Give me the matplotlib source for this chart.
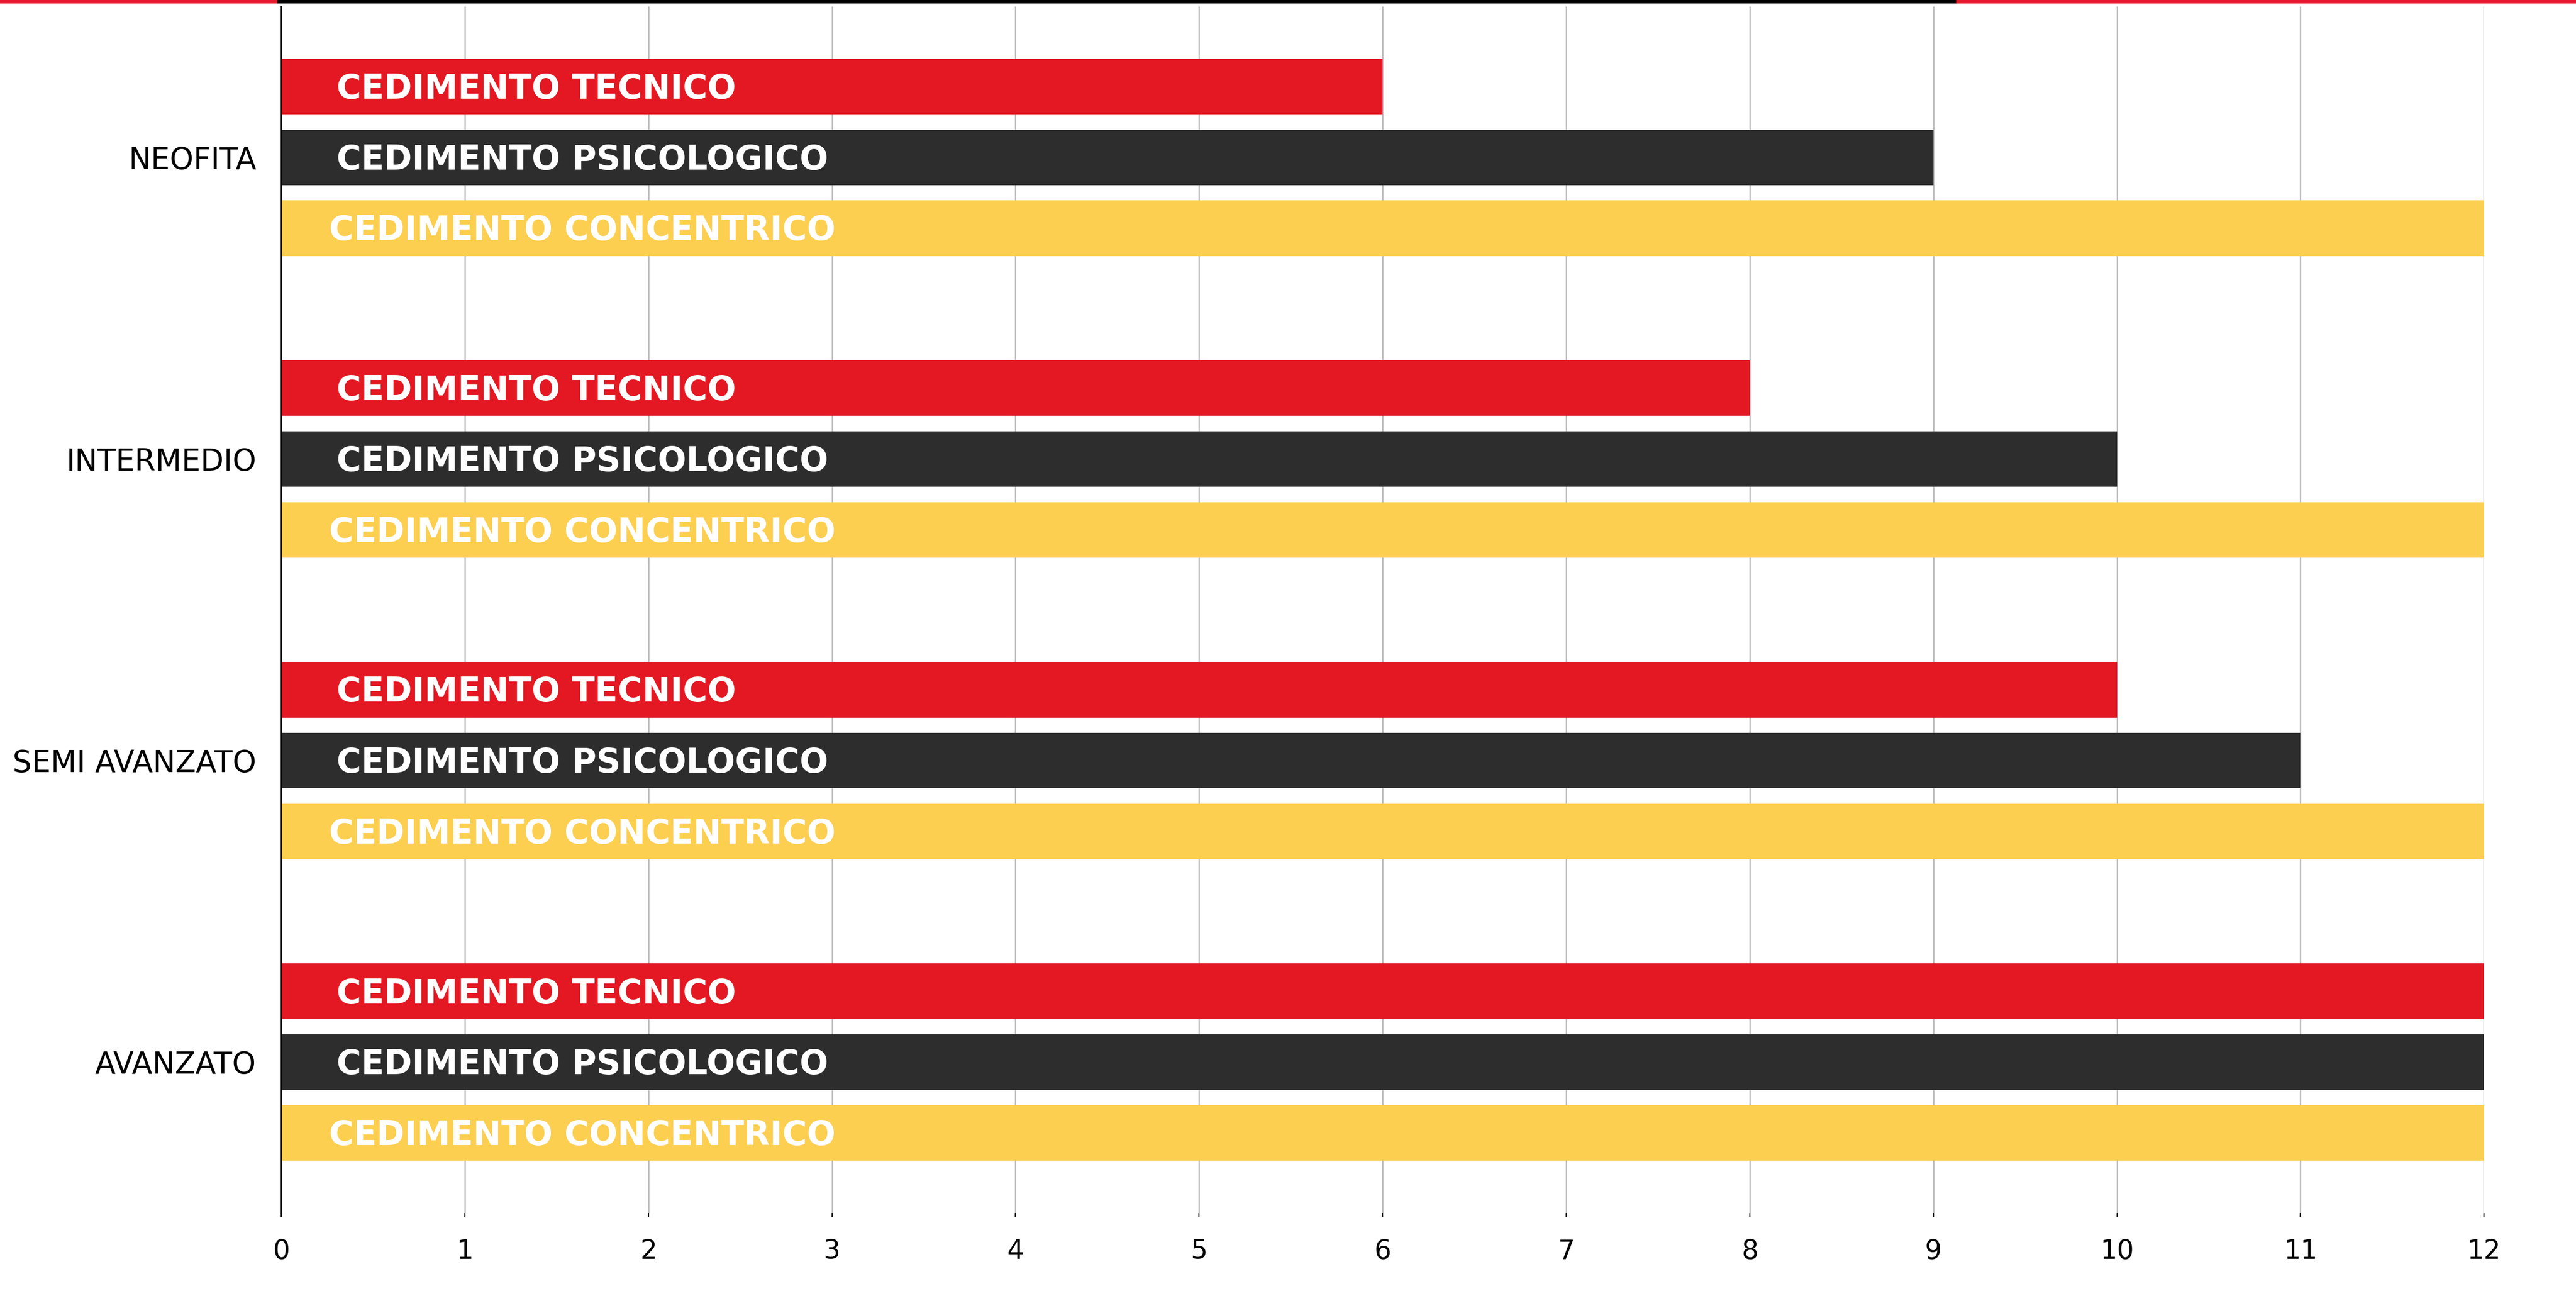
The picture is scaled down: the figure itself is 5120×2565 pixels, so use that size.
import matplotlib
matplotlib.use('Agg')
import matplotlib.pyplot as plt
from matplotlib.patches import Rectangle
import numpy as np

# Livelli di esperienza e ripetizioni al cedimento
levels = ['NEOFITA', 'INTERMEDIO', 'SEMI AVANZATO', 'AVANZATO']
tecnico = [6, 8, 10, 12]
psicologico = [9, 10, 11, 12]
concentrico = [12, 12, 12, 12]

series_names = ['CEDIMENTO TECNICO', 'CEDIMENTO PSICOLOGICO', 'CEDIMENTO CONCENTRICO']
series_colors = ['#E31822', '#2D2D2D', '#FDCF50']
x_ticks = list(range(0, 13))

plt.rcParams['font.family'] = ['DejaVu Sans']

fig = plt.figure(figsize=(25.6, 12.825), dpi=200)
ax = fig.add_axes([0.1092, 0.0604, 0.8551, 0.9345])

y = np.arange(len(levels))
offset = 0.235
height = 0.184

for i, (name, values, color) in enumerate(zip(series_names, [tecnico, psicologico, concentrico], series_colors)):
    pos = y + (i - 1) * offset
    ax.barh(pos, values, height=height, color=color, zorder=2)
    text_x = 0.26 if i == 2 else 0.30
    for p in pos:
        # baseline a metà altezza delle maiuscole sotto il centro della barra
        ax.text(text_x, p + 0.04, name, color='white', fontsize=24, fontweight='bold',
                va='baseline', ha='left', zorder=3)

ax.set_xlim(0, 12)
ax.set_ylim(len(levels) - 0.5, -0.5)
ax.set_xticks(x_ticks)
ax.set_yticks(y)
ax.set_yticklabels(levels)

ax.grid(axis='x', color='#BDBDBD', linewidth=1.0, zorder=0)
ax.grid(axis='y', visible=False)

for side in ['top', 'right', 'bottom']:
    ax.spines[side].set_visible(False)
ax.spines['left'].set_linewidth(0.8)
ax.spines['left'].set_color('black')

ax.tick_params(axis='x', length=3, width=0.8, color='black', pad=15, labelsize=19)
ax.tick_params(axis='y', length=0, pad=18, labelsize=21.5)

# Fascia decorativa in alto
fig.add_artist(Rectangle((0, 1 - 5 / 2565), 552 / 5120, 5 / 2565,
                         transform=fig.transFigure, color='#E8192C', zorder=5))
fig.add_artist(Rectangle((552 / 5120, 1 - 5 / 2565), (3889 - 552) / 5120, 5 / 2565,
                         transform=fig.transFigure, color='black', zorder=5))
fig.add_artist(Rectangle((3889 / 5120, 1 - 5 / 2565), (5120 - 3889) / 5120, 5 / 2565,
                         transform=fig.transFigure, color='#E8192C', zorder=5))

fig.savefig('out.png', dpi=200)
